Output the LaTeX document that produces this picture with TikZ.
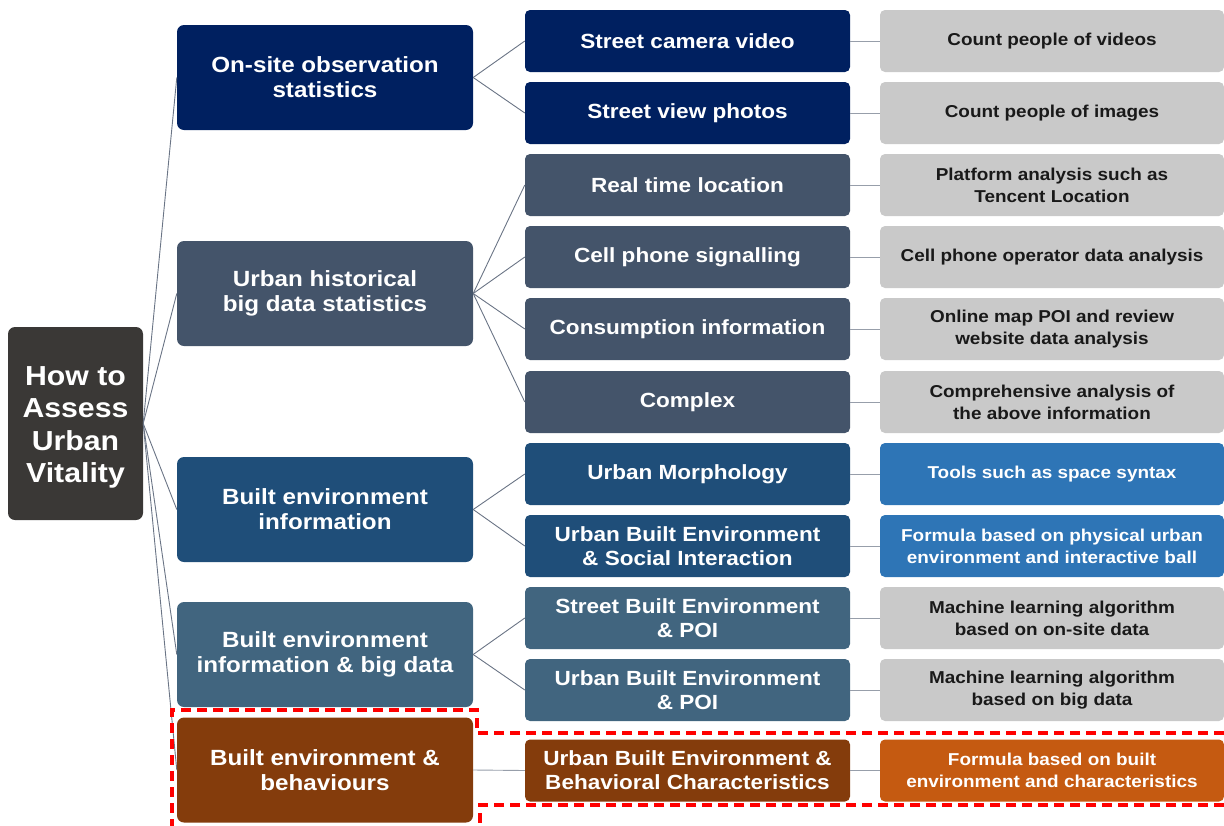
\documentclass[tikz,border=0pt]{standalone}
\usepackage{fontspec}
\setmainfont{Liberation Sans}[FakeStretch=1.1]
\begin{document}
\begin{tikzpicture}[x=1pt,y=-1pt,
  box/.style={rectangle, rounded corners=7pt, inner sep=0pt, align=center,
              text=white, font=\bfseries},
  rootbox/.style={box, fill=rootgray, minimum width=135pt, minimum height=193pt,
              font=\bfseries\fontsize{27.5}{32.5}\selectfont},
  lone/.style={box, minimum width=296pt, minimum height=105pt,
              font=\bfseries\fontsize{22}{25}\selectfont},
  ltwo/.style={box, rounded corners=5pt, minimum width=325pt, minimum height=62pt,
              font=\bfseries\fontsize{20.5}{24}\selectfont},
  lthree/.style={box, rounded corners=5pt, minimum width=344pt, minimum height=62pt,
              font=\bfseries\fontsize{17.2}{22}\selectfont},
  grey3/.style={lthree, fill=lgray, text=black!90},
  link/.style={draw=linkc, line width=0.9pt},
  hlink/.style={draw=linkc!70, line width=0.9pt},
  marker/.style={draw=red, line width=3.2pt, dash pattern=on 10pt off 6pt}
]
\definecolor{rootgray}{HTML}{3A3836}
\definecolor{navy}{HTML}{002060}
\definecolor{slate}{HTML}{44546A}
\definecolor{deepblue}{HTML}{1F4E79}
\definecolor{steel}{HTML}{41657F}
\definecolor{brown}{HTML}{843C0C}
\definecolor{lgray}{HTML}{C9C9C9}
\definecolor{brightblue}{HTML}{2E75B6}
\definecolor{rust}{HTML}{C55A11}
\definecolor{linkc}{HTML}{6A7485}

\useasboundingbox (0,0) rectangle (1224,825);

% root
\node[rootbox] (root) at (75.5,423.5)
  {\raisebox{-4pt}[\height][\depth]{\begin{tabular}{@{}c@{}}How to\\Assess\\Urban\\Vitality\end{tabular}}};

% first level
\node[lone, fill=navy]     (onsite) at (325,77.5)  {On-site observation\\statistics};
\node[lone, fill=slate]    (hist)   at (325,293.5) {Urban historical\\big data statistics};
\node[lone, fill=deepblue] (bei)    at (325,509.5) {Built environment\\information};
\node[lone, fill=steel]    (beib)   at (325,654.5) {Built environment\\information \& big data};
\node[lone, fill=brown]    (beh)    at (325,770)   {Built environment \&\\behaviours};

% second level
\node[ltwo, fill=navy]     (cam)   at (687.5,41)  {Street camera video};
\node[ltwo, fill=navy]     (svp)   at (687.5,113) {Street view photos};
\node[ltwo, fill=slate]    (rtl)   at (687.5,185) {Real time location};
\node[ltwo, fill=slate]    (cell)  at (687.5,257) {Cell phone signalling};
\node[ltwo, fill=slate]    (cons)  at (687.5,329) {Consumption information};
\node[ltwo, fill=slate]    (cplx)  at (687.5,402) {Complex};
\node[ltwo, fill=deepblue] (morph) at (687.5,474) {Urban Morphology};
\node[ltwo, fill=deepblue] (soc)   at (687.5,546) {Urban Built Environment\\\& Social Interaction};
\node[ltwo, fill=steel]    (spoi)  at (687.5,618) {Street Built Environment\\\& POI};
\node[ltwo, fill=steel]    (upoi)  at (687.5,690) {Urban Built Environment\\\& POI};
\node[ltwo, fill=brown]    (ubeb)  at (687.5,770.5) {Urban Built Environment \&\\Behavioral Characteristics};

% third level
\node[grey3] (m1) at (1052,41)  {Count people of videos};
\node[grey3] (m2) at (1052,113) {Count people of images};
\node[grey3] (m3) at (1052,185) {Platform analysis such as\\Tencent Location};
\node[grey3] (m4) at (1052,257) {Cell phone operator data analysis};
\node[grey3] (m5) at (1052,329) {Online map POI and review\\website data analysis};
\node[grey3] (m6) at (1052,402) {Comprehensive analysis of\\the above information};
\node[lthree, fill=brightblue] (m7) at (1052,474) {Tools such as space syntax};
\node[lthree, fill=brightblue] (m8) at (1052,546) {Formula based on physical urban\\environment and interactive ball};
\node[grey3] (m9)  at (1052,618) {Machine learning algorithm\\based on on-site data};
\node[grey3] (m10) at (1052,690) {Machine learning algorithm\\based on big data};
\node[lthree, fill=rust] (m11) at (1052,770.5) {Formula based on built\\environment and characteristics};

% root to first level
\foreach \n in {onsite,hist,bei,beib,beh}
  \draw[link] (root.east) -- (\n.west);

% first to second level
\foreach \n in {cam,svp} \draw[link] (onsite.east) -- (\n.west);
\foreach \n in {rtl,cell,cons,cplx} \draw[link] (hist.east) -- (\n.west);
\foreach \n in {morph,soc} \draw[link] (bei.east) -- (\n.west);
\foreach \n in {spoi,upoi} \draw[link] (beib.east) -- (\n.west);
\draw[hlink] (beh.east) -- (ubeb.west);

% second to third level
\foreach \a/\b in {cam/m1,svp/m2,rtl/m3,cell/m4,cons/m5,cplx/m6,morph/m7,soc/m8,spoi/m9,upoi/m10,ubeb/m11}
  \draw[hlink] (\a.east) -- (\b.west);

% dashed highlight around the last branch
\coordinate (hTR) at (1224,733);
\coordinate (hBR) at (1224,805);
\draw[marker] (hTR) -- (477,733) -- (477,710) -- (172,710) -- (172,826);
\draw[marker] (hBR) -- (480,805) -- (480,826);
\end{tikzpicture}
\end{document}
